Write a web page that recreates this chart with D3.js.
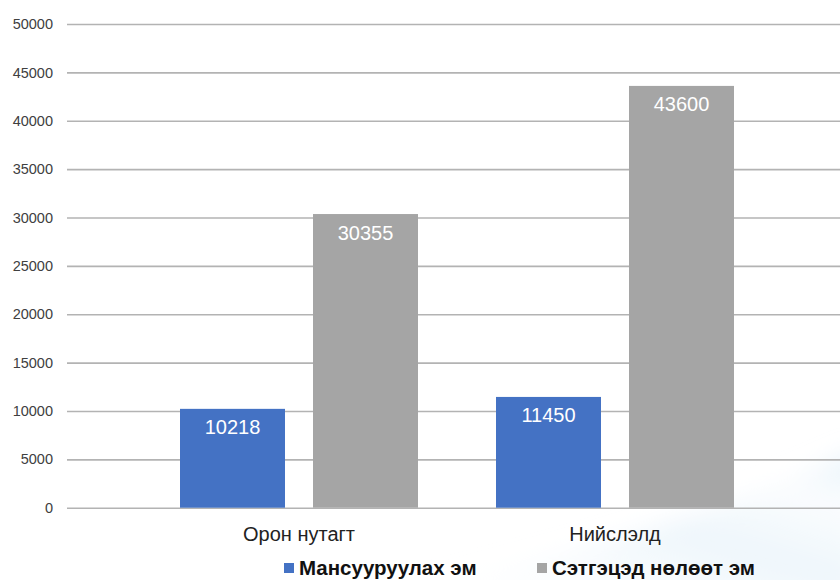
<!DOCTYPE html>
<html><head><meta charset="utf-8">
<script src="https://cdn.jsdelivr.net/npm/d3@7"></script>
<style>html,body{margin:0;padding:0;background:#fff;}svg{display:block;font-family:Arial,"Liberation Sans",sans-serif;}</style>
</head><body>
<svg id="c" width="840" height="580"></svg>
<script>
const categories = ["Орон нутагт", "Нийслэлд"];
const seriesNames = ["Мансууруулах эм", "Сэтгэцэд нөлөөт эм"];
const seriesColors = ["#4472C4", "#A5A5A5"];
const mansuuruulah = [10218, 11450];
const setgetsed = [30355, 43600];
const yTicks = [0, 5000, 10000, 15000, 20000, 25000, 30000, 35000, 40000, 45000, 50000];

const svg = d3.select("#c");
const defs = svg.append("defs");
const g1 = defs.append("linearGradient").attr("id","sw").attr("x1","0").attr("y1","1").attr("x2","1").attr("y2","0");
g1.append("stop").attr("offset","0").attr("stop-color","#ffffff").attr("stop-opacity",0);
g1.append("stop").attr("offset","0.55").attr("stop-color","#e6f2fa").attr("stop-opacity",0.7);
g1.append("stop").attr("offset","0.8").attr("stop-color","#f6fafd").attr("stop-opacity",0.5);
g1.append("stop").attr("offset","1").attr("stop-color","#d6eaf7").attr("stop-opacity",0.8);
defs.append("filter").attr("id","bl").attr("x","-20%").attr("y","-20%").attr("width","140%").attr("height","140%")
  .append("feGaussianBlur").attr("stdDeviation",12);
svg.append("path").attr("d","M360,600 C560,560 700,520 860,450 L860,600 Z").attr("fill","url(#sw)").attr("filter","url(#bl)");

const y = d3.scaleLinear().domain([0, 50000]).range([507.7, 24]);
const x = d3.scaleBand().domain(categories).range([141, 773]).paddingInner(0).paddingOuter(0);
const xs = d3.scaleBand().domain(seriesNames).range([39, 316-39]).paddingInner(28/133).paddingOuter(0);

const grid = svg.append("g").attr("transform","translate(67,0)")
  .call(d3.axisLeft(y).tickValues(yTicks).tickSize(-773).tickFormat(""));
grid.select(".domain").remove();
grid.selectAll("line").attr("stroke","#b3b3b3").attr("stroke-width",1.6);

const yl = svg.append("g").attr("transform","translate(53,0)")
  .call(d3.axisLeft(y).tickValues(yTicks).tickSize(0).tickPadding(0).tickFormat(d3.format("d")));
yl.select(".domain").remove();
yl.selectAll("text").attr("font-size",14.5).attr("fill","#404040").attr("font-family","Arial, 'Liberation Sans', sans-serif");

const data = categories.map((c,i)=>({cat:c, vals:[mansuuruulah[i], setgetsed[i]]}));
const grp = svg.selectAll(".grp").data(data).enter().append("g").attr("transform",d=>`translate(${x(d.cat)},0)`);
const bars = grp.selectAll("g.b").data(d=>d.vals.map((v,j)=>({s:seriesNames[j], v, j}))).enter().append("g");
bars.append("rect").attr("x",d=>xs(d.s)).attr("width",xs.bandwidth())
  .attr("y",d=>y(d.v)).attr("height",d=>y(0)-y(d.v)).attr("fill",d=>seriesColors[d.j]);
bars.append("text").attr("x",d=>xs(d.s)+xs.bandwidth()/2).attr("y",d=>y(d.v)+25.5)
  .attr("text-anchor","middle").attr("fill","#fff").attr("font-size",20).text(d=>d.v);

const xa = svg.append("g").attr("transform","translate(0,507.7)")
  .call(d3.axisBottom(x).tickSize(0).tickPadding(0));
xa.select(".domain").remove();
xa.selectAll("text").attr("dy",0).attr("y",33).attr("font-size",20).attr("fill","#222").attr("font-family","Arial, 'Liberation Sans', sans-serif");

const legX = [284, 537];
const leg = svg.selectAll(".leg").data(seriesNames).enter().append("g").attr("transform",(d,i)=>`translate(${legX[i]},0)`);
leg.append("rect").attr("x",0).attr("y",563).attr("width",10).attr("height",10).attr("fill",(d,i)=>seriesColors[i]);
leg.append("text").attr("x",15).attr("y",575).attr("font-size",20.5).attr("font-weight","bold").attr("fill","#111").text(d=>d);
</script>
</body></html>
